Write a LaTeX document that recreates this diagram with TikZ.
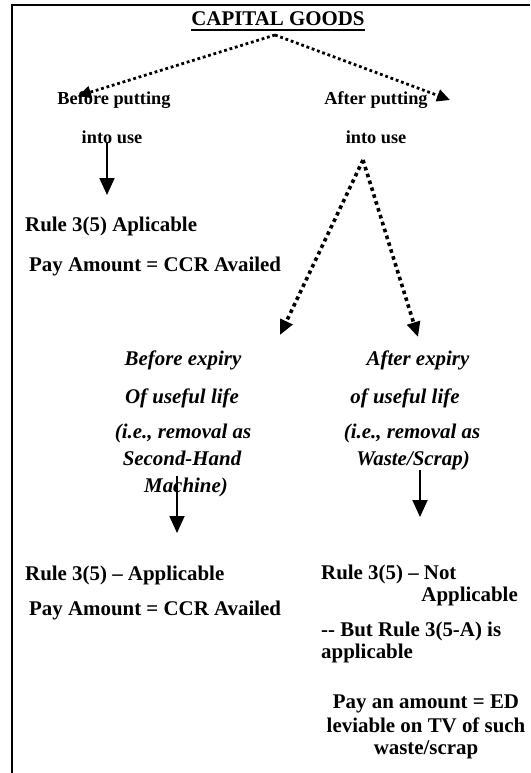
\documentclass[tikz,border=0pt]{standalone}
\usepackage{fontspec}
\setmainfont{Liberation Serif}
\usetikzlibrary{arrows.meta,calc,positioning}

\begin{document}
\begin{tikzpicture}[x=1pt,y=-1pt,
  every node/.style={font=\fontsize{20.9}{25}\selectfont\bfseries,inner sep=0pt,anchor=base},
  lbl/.style={anchor=base west},
  lbr/.style={anchor=base east},
  sml/.style={font=\fontsize{18.3}{22}\selectfont\bfseries},
  itl/.style={font=\fontsize{20.9}{25}\selectfont\bfseries\itshape},
  dots/.style={line width=2.8pt,dash pattern=on 2.8pt off 2.8pt,-{Triangle[length=13pt,width=12pt]}},
  bigdots/.style={line width=3.6pt,dash pattern=on 3.6pt off 3.6pt,-{Triangle[length=15pt,width=13pt]}},
  down/.style={line width=1.8pt,-{Triangle[length=17pt,width=15pt]}}]
\useasboundingbox (0,0) rectangle (530,773);
\draw[line width=2pt] (12,773) -- (12,5) -- (530,5);
\node (title) at (278,26) {CAPITAL GOODS};
\draw[line width=1.6pt] ([yshift=-4pt]title.base west) -- ([yshift=-4pt]title.base east);
\node[sml] (bp) at (114,105) {Before putting};
\node[sml] (bu) at (112,143) {into use};
\node[sml] (ap) at (376,105) {After putting};
\node[sml] (au) at (376,143) {into use};
\node[lbl] (r1) at (25,231) {Rule 3(5) Aplicable};
\node[lbl] (p1) at (29,271) {Pay Amount = CCR Availed};
\node[itl] (be1) at (183,365) {Before expiry};
\node[itl] (be2) at (182,403) {Of useful life};
\node[itl] (be3) at (183,438) {(i.e., removal as};
\node[itl] (be4) at (182,465) {Second-Hand};
\node[itl] (be5) at (186,492) {Machine)};
\node[itl] (ae1) at (418,365) {After expiry};
\node[itl] (ae2) at (405,403) {of useful life};
\node[itl] (ae3) at (412,438) {(i.e., removal as};
\node[itl] (ae4) at (413,465) {Waste/Scrap)};
\node[lbl] (r2) at (25,580) {Rule 3(5) -- Applicable};
\node[lbl] (p2) at (29,615) {Pay Amount = CCR Availed};
\node[lbl] (r3) at (321,579) {Rule 3(5) -- Not};
\node[lbr] (r3b) at (518,601) {Applicable};
\node[lbl] (b1) at (321,636) {-{}- But Rule 3(5-A) is};
\node[lbl] (b2) at (321,658) {applicable};
\node (e1) at (426,708) {Pay an amount = ED};
\node (e2) at (426,732) {leviable on TV of such};
\node (e3) at (426,754) {waste/scrap};
\coordinate (cg) at (275,35);
\coordinate (bpin) at (78,96);
\coordinate (apin) at (450,100);
\coordinate (auo) at (363,160);
\coordinate (bein) at (280,335);
\coordinate (aein) at (418,337);
\coordinate (buo) at (107,142);
\coordinate (r1in) at (107,195);
\coordinate (beo) at (177,476);
\coordinate (r2in) at (177,533);
\coordinate (aeo) at (420,470);
\coordinate (r3in) at (420,517);
\draw[dots] (cg) -- (bpin);
\draw[dots] (cg) -- (apin);
\draw[bigdots] (auo) -- (bein);
\draw[bigdots] (auo) -- (aein);
\draw[down] (buo) -- (r1in);
\draw[down] (beo) -- (r2in);
\draw[down] (aeo) -- (r3in);
\end{tikzpicture}
\end{document}
